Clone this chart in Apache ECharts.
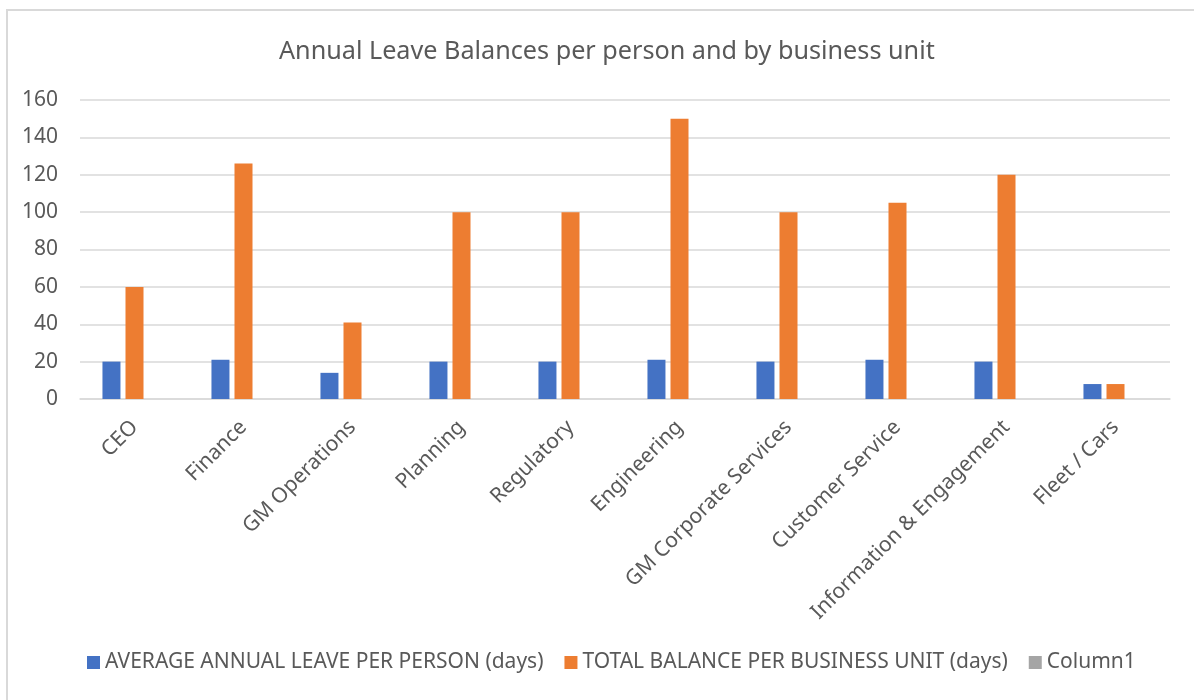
<!DOCTYPE html>
<html>
<head>
<meta charset="utf-8">
<script src="https://cdn.jsdelivr.net/npm/echarts@6/dist/echarts.min.js"></script>
<style>
  html, body { margin: 0; padding: 0; background: #fff; }
  #frame { position: absolute; left: 6px; top: 9px; width: 1200px; height: 700px; border: 2px solid #d9d9d9; box-sizing: border-box; }
  #chart { position: absolute; left: 0; top: 0; width: 1194px; height: 700px; }
</style>
</head>
<body>
<div id="frame"></div>
<div id="chart"></div>
<script>
// Business units along the x axis
const units = ['CEO', 'Finance', 'GM Operations', 'Planning', 'Regulatory', 'Engineering',
  'GM Corporate Services', 'Customer Service', 'Information & Engagement', 'Fleet / Cars'];

// Average annual leave per person (days)
const avgPerPerson = [20, 21, 14, 20, 20, 21, 20, 21, 20, 8];

// Total leave balance per business unit (days)
const totalPerUnit = [60, 126, 41, 100, 100, 150, 100, 105, 120, 8];

// Spare column with no values
const column1 = [null, null, null, null, null, null, null, null, null, null];

const seriesNames = ['AVERAGE ANNUAL LEAVE PER PERSON (days)', 'TOTAL BALANCE PER BUSINESS UNIT (days)', 'Column1'];
const yTicks = { min: 0, max: 160, interval: 20 };

const font = 'Noto Sans, Open Sans, sans-serif';
const textColor = '#595959';

const chart = echarts.init(document.getElementById('chart'), null, { renderer: 'canvas' });
chart.setOption({
  backgroundColor: 'transparent',
  animation: false,
  title: {
    text: 'Annual Leave Balances per person and by business unit',
    left: 274,
    top: 34,
    textStyle: { fontFamily: font, fontSize: 25.2, fontWeight: 'normal', color: textColor }
  },
  legend: {
    bottom: 22,
    left: 82,
    itemWidth: 13,
    itemHeight: 13,
    itemGap: 21,
    icon: 'rect',
    textStyle: { fontFamily: font, fontSize: 21, color: textColor }
  },
  grid: { left: 80, right: 24, top: 100, bottom: 301, containLabel: false },
  xAxis: {
    type: 'category',
    data: units,
    axisLine: { lineStyle: { color: '#d9d9d9', width: 1.5 } },
    axisTick: { show: false },
    axisLabel: {
      rotate: 45,
      interval: 0,
      margin: 25,
      fontFamily: font,
      fontSize: 21,
      color: textColor
    }
  },
  yAxis: {
    type: 'value',
    min: yTicks.min,
    max: yTicks.max,
    interval: yTicks.interval,
    axisLine: { show: false },
    axisTick: { show: false },
    splitLine: { lineStyle: { color: '#d9d9d9', width: 1.5 } },
    axisLabel: { margin: 22, fontFamily: font, fontSize: 21, color: textColor }
  },
  series: [
    { name: seriesNames[0], type: 'bar', data: avgPerPerson, barWidth: 18, barGap: '28%', itemStyle: { color: '#4472C4' } },
    { name: seriesNames[1], type: 'bar', data: totalPerUnit, barWidth: 18, barGap: '28%', itemStyle: { color: '#ED7D31' } },
    { name: seriesNames[2], type: 'bar', data: column1, barWidth: 18, barGap: '28%', itemStyle: { color: '#A5A5A5' } }
  ]
});
</script>
</body>
</html>
